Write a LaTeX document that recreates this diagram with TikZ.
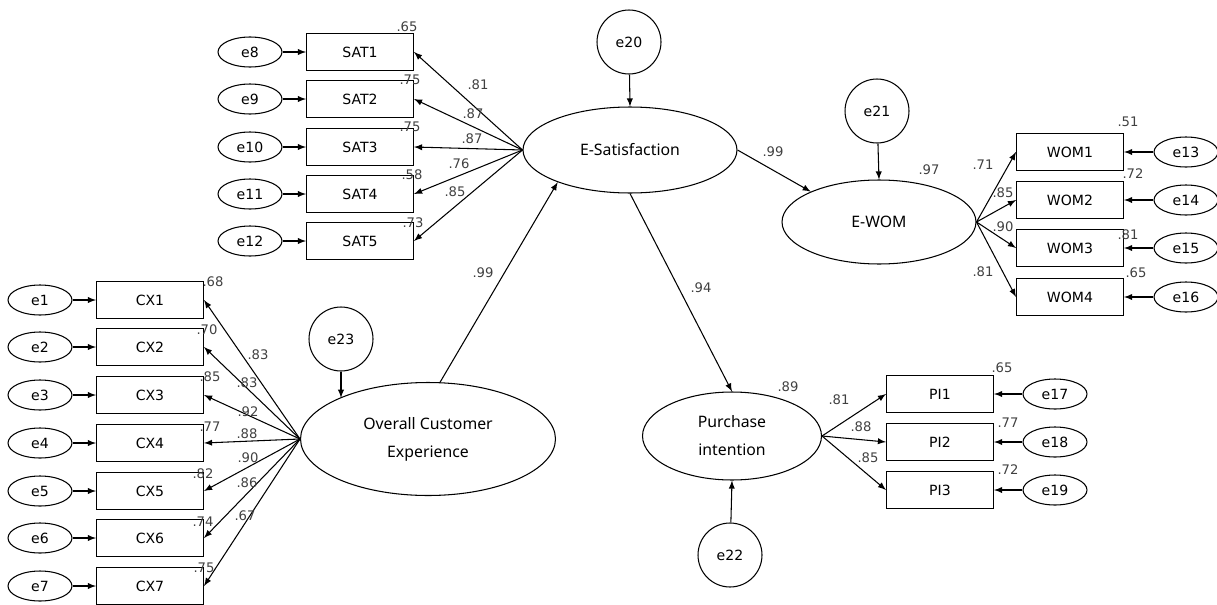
\documentclass[tikz,border=0pt]{standalone}
\usepackage{fontspec}
\setmainfont{DejaVu Sans}
\newfontfamily\latfont{Noto Sans}
\usetikzlibrary{shapes.geometric}
\tikzset{
  obs/.style={draw,rectangle,minimum width=2.14cm,minimum height=0.74cm,inner sep=0pt,font=\fontsize{8}{9}\selectfont},
  err/.style={draw,ellipse,minimum width=1.28cm,minimum height=0.6cm,inner sep=0pt,font=\fontsize{8}{9}\selectfont},
  dist/.style={draw,circle,minimum size=1.28cm,inner sep=0pt,font=\fontsize{8}{9}\selectfont},
  lat/.style={draw,ellipse,inner sep=0pt,align=center,font=\latfont\fontsize{9}{16}\selectfont},
  num/.style={text=black!75,inner sep=0pt,font=\fontsize{7.5}{9}\selectfont},
}
\begin{document}
\begin{tikzpicture}[x=0.02cm,y=-0.02cm,line width=0.6pt,>=latex]
\useasboundingbox (0,0) rectangle (1217,605);
% latent variables
\node[lat,minimum width=4.28cm,minimum height=1.72cm](esat) at (630,150){E-Satisfaction};
\node[lat,minimum width=5.1cm,minimum height=2.26cm](oce) at (428,439){Overall Customer\\Experience};
\node[lat,minimum width=3.88cm,minimum height=1.68cm](ewom) at (879,222){E-WOM};
\node[lat,minimum width=3.58cm,minimum height=1.76cm](pint) at (732,436){Purchase\\intention};
\node[dist](e20) at (629,42){e20};
\node[dist](e21) at (877,111){e21};
\node[dist](e22) at (730,555){e22};
\node[dist](e23) at (341,339){e23};
\draw[->](e20)--(esat.north);
\draw[->](e21)--(ewom.north);
\draw[->](e22)--(pint.south);
\draw[->](e23)--(e23|-oce.155);
% structural paths
\draw[->](oce.78)--(esat.204);
\draw[->](esat.east)--(ewom.156);
\draw[->](esat.south)--(pint.north);
\node[num](b1) at (483,273){.99};
\node[num](b2) at (773,152){.99};
\node[num](b3) at (701,288){.94};
\node[num](r1) at (929,170){.97};
\node[num](r2) at (788,387){.89};
% E-Satisfaction items
\foreach \i/\k/\y/\l/\lx/\ly/\r/\rx/\ry in {1/8/52/.81/478/85/.65/407/27,2/9/99/.87/473/114/.75/410/80,3/10/147/.87/472/139/.75/410/127,4/11/194/.76/459/164/.58/412/175,5/12/241/.85/455/192/.73/413/223}{
  \node[obs](sat\i) at (360,\y){SAT\i};
  \node[err](e\k) at (250,\y){e\k};
  \draw[->](e\k)--(sat\i);
  \draw[->](esat.west)--(sat\i.east);
  \node[num](lsat\i) at (\lx,\ly){\l};
  \node[num](rsat\i) at (\rx,\ry){\r};
}
% Customer experience items
\foreach \i/\y/\l/\lx/\ly/\r/\rx/\ry in {1/300/.83/258/355/.68/213/282,2/347/.83/247/383/.70/207/330,3/395/.92/248/412/.85/210/377,4/443/.88/247/434/.77/210/427,5/491/.90/248/458/.82/203/474,6/538/.86/247/483/.74/203/522,7/586/.67/245/516/.75/204/568}{
  \node[obs](cx\i) at (150,\y){CX\i};
  \node[err](e\i) at (40,\y){e\i};
  \draw[->](e\i)--(cx\i);
  \draw[->](oce.west)--(cx\i.east);
  \node[num](lcx\i) at (\lx,\ly){\l};
  \node[num](rcx\i) at (\rx,\ry){\r};
}
% E-WOM items
\foreach \i/\k/\y/\l/\lx/\ly/\r/\rx/\ry in {1/13/152/.71/983/165/.51/1128/122,2/14/200/.85/1003/193/.72/1133/174,3/15/248/.90/1003/227/.81/1128/235,4/16/297/.81/983/272/.65/1136/273}{
  \node[obs](wom\i) at (1070,\y){WOM\i};
  \node[err](e\k) at (1186,\y){e\k};
  \draw[->](e\k)--(wom\i);
  \draw[->](ewom.east)--(wom\i.west);
  \node[num](lwom\i) at (\lx,\ly){\l};
  \node[num](rwom\i) at (\rx,\ry){\r};
}
% Purchase intention items
\foreach \i/\k/\y/\l/\lx/\ly/\r/\rx/\ry in {1/17/394/.81/839/400/.65/1002/368,2/18/442/.88/861/427/.77/1008/423,3/19/490/.85/868/458/.72/1008/470}{
  \node[obs](pi\i) at (940,\y){PI\i};
  \node[err](e\k) at (1055,\y){e\k};
  \draw[->](e\k)--(pi\i);
  \draw[->](pint.east)--(pi\i.west);
  \node[num](lpi\i) at (\lx,\ly){\l};
  \node[num](rpi\i) at (\rx,\ry){\r};
}
\end{tikzpicture}
\end{document}
